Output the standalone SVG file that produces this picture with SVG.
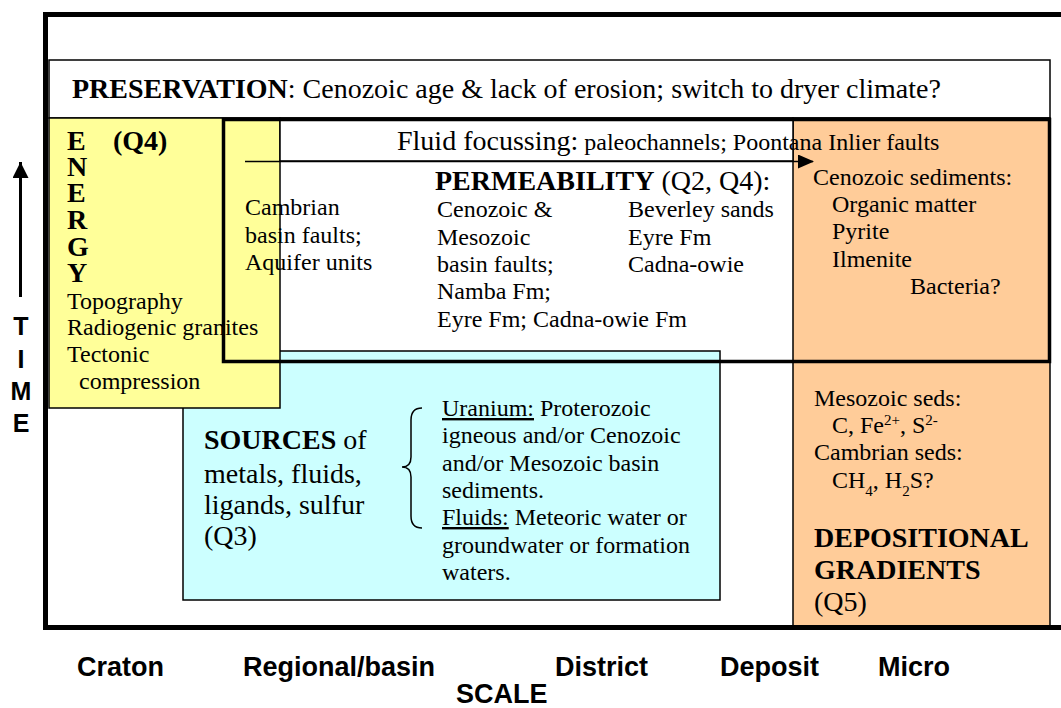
<svg xmlns="http://www.w3.org/2000/svg" width="1061" height="708" viewBox="0 0 1061 708">
<style>
.t{font-family:"Liberation Serif","Times New Roman",serif;fill:#000}
.b{font-weight:bold}
.s24{font-size:24px}
.s28{font-size:28px}
.a{font-family:"Liberation Sans",Arial,sans-serif;font-weight:bold;font-size:27px;fill:#000}
.tm{font-size:25px}
.thin{stroke:#000;stroke-width:1.5}
.u{text-decoration:underline}
</style>
<defs>
<marker id="ah" markerWidth="16" markerHeight="14" refX="15" refY="7" orient="auto" markerUnits="userSpaceOnUse">
<path d="M0,0 L16,7 L0,14 Z" fill="#000"/>
</marker>
<marker id="ah2" markerWidth="16" markerHeight="16" refX="16" refY="8" orient="auto" markerUnits="userSpaceOnUse">
<path d="M0,0 L16,8 L0,16 Z" fill="#000"/>
</marker>
</defs>
<rect width="1061" height="708" fill="#fff"/>

<g id="preservation">
<rect x="49" y="60" width="1001" height="58" fill="#fff" class="thin"/>
<text class="t s28" x="72" y="98"><tspan class="b">PRESERVATION</tspan>: Cenozoic age &amp; lack of erosion; switch to dryer climate?</text>
</g>

<g id="sources">
<rect x="183" y="351" width="537" height="249" fill="#CCFFFF" class="thin"/>
</g>

<g id="energy">
<rect x="49" y="118" width="231" height="290" fill="#FFFF99" class="thin"/>
</g>

<g id="gradients">
<rect x="793" y="362" width="257" height="265" fill="#FFCC99" class="thin"/>
</g>

<g id="cenozoic-seds">
<rect x="793" y="118" width="257" height="244" fill="#FFCC99" class="thin"/>
</g>

<g id="fluid-focussing">
<rect x="280" y="118" width="513" height="43" fill="#fff" class="thin"/>
</g>

<g id="permeability">
<rect x="223.5" y="119.5" width="826" height="242" fill="none" stroke="#000" stroke-width="3.5"/>
</g>

<g id="connectors">
<line x1="245" y1="161.5" x2="813" y2="161.5" stroke="#000" stroke-width="1.5" marker-end="url(#ah)"/>
<path d="M422,408 Q411,408 411,420 L411,457 Q411,467 402,467 Q411,467 411,477 L411,516 Q411,528 422,528" fill="none" stroke="#000" stroke-width="1.5"/>
<line x1="20.5" y1="297" x2="20.5" y2="162" stroke="#000" stroke-width="3" marker-end="url(#ah2)"/>
</g>

<g id="frame">
<path d="M1070,14.5 L45.5,14.5 L45.5,627.5 L1070,627.5" fill="none" stroke="#000" stroke-width="5"/>
</g>

<g id="energy-text">
<text class="t s28 b" x="67" y="150">E<tspan x="113">(Q4)</tspan></text>
<text class="t s28 b" x="67" y="176">N</text>
<text class="t s28 b" x="67" y="202">E</text>
<text class="t s28 b" x="67" y="229">R</text>
<text class="t s28 b" x="67" y="256">G</text>
<text class="t s28 b" x="67" y="282">Y</text>
<text class="t s24" x="67" y="309">Topography</text>
<text class="t s24" x="67" y="335">Radiogenic granites</text>
<text class="t s24" x="67" y="362">Tectonic</text>
<text class="t s24" x="79" y="389">compression</text>
</g>

<g id="permeability-text">
<text class="t s24" x="245" y="215">Cambrian</text>
<text class="t s24" x="245" y="243">basin faults;</text>
<text class="t s24" x="245" y="270">Aquifer units</text>
<text class="t s28" x="397" y="150">Fluid focussing:<tspan class="s24"> paleochannels; Poontana Inlier faults</tspan></text>
<text class="t s28" x="435" y="190"><tspan class="b">PERMEABILITY</tspan> (Q2, Q4):</text>
<text class="t s24" x="437" y="217">Cenozoic &amp;</text>
<text class="t s24" x="437" y="245">Mesozoic</text>
<text class="t s24" x="437" y="272">basin faults;</text>
<text class="t s24" x="437" y="299">Namba Fm;</text>
<text class="t s24" x="437" y="327">Eyre Fm; Cadna-owie Fm</text>
<text class="t s24" x="628" y="217">Beverley sands</text>
<text class="t s24" x="628" y="245">Eyre Fm</text>
<text class="t s24" x="628" y="272">Cadna-owie</text>
</g>

<g id="cenozoic-text">
<text class="t s24" x="813" y="185">Cenozoic sediments:</text>
<text class="t s24" x="832" y="212">Organic matter</text>
<text class="t s24" x="832" y="239">Pyrite</text>
<text class="t s24" x="832" y="267">Ilmenite</text>
<text class="t s24" x="910" y="294">Bacteria?</text>
</g>

<g id="gradients-text">
<text class="t s24" x="814" y="406">Mesozoic seds:</text>
<text class="t s24" x="832" y="433">C, Fe<tspan font-size="15" baseline-shift="super">2+</tspan>, S<tspan font-size="15" baseline-shift="super">2-</tspan></text>
<text class="t s24" x="814" y="460">Cambrian seds:</text>
<text class="t s24" x="832" y="488">CH<tspan font-size="15" baseline-shift="sub">4</tspan>, H<tspan font-size="15" baseline-shift="sub">2</tspan>S?</text>
<text class="t s28 b" x="814" y="547">DEPOSITIONAL</text>
<text class="t s28 b" x="814" y="579">GRADIENTS</text>
<text class="t s28" x="814" y="611">(Q5)</text>
</g>

<g id="sources-text">
<text class="t s28" x="204" y="449"><tspan class="b">SOURCES</tspan> of</text>
<text class="t s28" x="204" y="483">metals, fluids,</text>
<text class="t s28" x="204" y="514">ligands, sulfur</text>
<text class="t s28" x="204" y="545">(Q3)</text>
<text class="t s24" x="442" y="416"><tspan class="u">Uranium:</tspan> Proterozoic</text>
<text class="t s24" x="442" y="443">igneous and/or Cenozoic</text>
<text class="t s24" x="442" y="471">and/or Mesozoic basin</text>
<text class="t s24" x="442" y="498">sediments.</text>
<text class="t s24" x="442" y="525"><tspan class="u">Fluids:</tspan> Meteoric water or</text>
<text class="t s24" x="442" y="553">groundwater or formation</text>
<text class="t s24" x="442" y="580">waters.</text>
</g>

<g id="axes">
<text class="a tm" x="21" y="335" text-anchor="middle">T</text>
<text class="a tm" x="21" y="368" text-anchor="middle">I</text>
<text class="a tm" x="21" y="400" text-anchor="middle">M</text>
<text class="a tm" x="21" y="432" text-anchor="middle">E</text>
<text class="a" x="77" y="676">Craton</text>
<text class="a" x="243" y="676">Regional/basin</text>
<text class="a" x="555" y="676">District</text>
<text class="a" x="720" y="676">Deposit</text>
<text class="a" x="878" y="676">Micro</text>
<text class="a" x="456" y="703">SCALE</text>
</g>
</svg>
